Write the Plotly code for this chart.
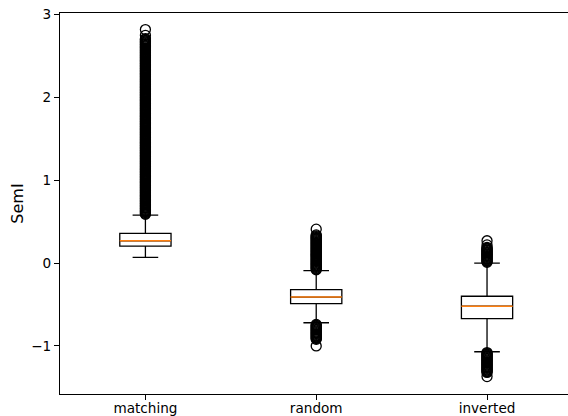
import plotly.graph_objects as go

categories = ["matching", "random", "inverted"]
positions = [1, 2, 3]

q1_vals = [0.205, -0.49, -0.67]
median_vals = [0.27, -0.41, -0.52]
q3_vals = [0.36, -0.32, -0.40]
lower_whisker = [0.07, -0.72, -1.07]
upper_whisker = [0.58, -0.09, 0.00]

matching_outliers = [
    0.59, 0.60, 0.61, 0.62, 0.63, 0.64, 0.65, 0.66, 0.67, 0.68,
    0.69, 0.70, 0.71, 0.72, 0.73, 0.74, 0.75, 0.76, 0.77, 0.78,
    0.79, 0.80, 0.81, 0.82, 0.83, 0.84, 0.85, 0.86, 0.87, 0.88,
    0.89, 0.90, 0.91, 0.92, 0.93, 0.94, 0.95, 0.96, 0.97, 0.98,
    0.99, 1.00, 1.01, 1.02, 1.03, 1.04, 1.05, 1.06, 1.07, 1.08,
    1.09, 1.10, 1.11, 1.12, 1.13, 1.14, 1.15, 1.16, 1.17, 1.18,
    1.19, 1.20, 1.21, 1.22, 1.23, 1.24, 1.25, 1.26, 1.27, 1.28,
    1.29, 1.30, 1.31, 1.32, 1.33, 1.34, 1.35, 1.36, 1.37, 1.38,
    1.39, 1.40, 1.41, 1.42, 1.43, 1.44, 1.45, 1.46, 1.47, 1.48,
    1.49, 1.50, 1.51, 1.52, 1.53, 1.54, 1.55, 1.56, 1.57, 1.58,
    1.59, 1.60, 1.61, 1.62, 1.63, 1.64, 1.65, 1.66, 1.67, 1.68,
    1.69, 1.70, 1.71, 1.72, 1.73, 1.74, 1.75, 1.76, 1.77, 1.78,
    1.79, 1.80, 1.81, 1.82, 1.83, 1.84, 1.85, 1.86, 1.87, 1.88,
    1.89, 1.90, 1.91, 1.92, 1.93, 1.94, 1.95, 1.96, 1.97, 1.98,
    1.99, 2.00, 2.01, 2.02, 2.03, 2.04, 2.05, 2.06, 2.07, 2.08,
    2.09, 2.10, 2.11, 2.12, 2.13, 2.14, 2.15, 2.16, 2.17, 2.18,
    2.19, 2.20, 2.21, 2.22, 2.23, 2.24, 2.25, 2.26, 2.27, 2.28,
    2.29, 2.30, 2.31, 2.32, 2.33, 2.34, 2.35, 2.36, 2.37, 2.38,
    2.39, 2.40, 2.41, 2.42, 2.43, 2.44, 2.45, 2.46, 2.47, 2.48,
    2.49, 2.50, 2.51, 2.52, 2.53, 2.54, 2.55, 2.56, 2.57, 2.58,
    2.59, 2.60, 2.61, 2.62, 2.63, 2.64, 2.65, 2.66, 2.67, 2.68,
    2.69, 2.70, 2.71, 2.75, 2.82,
]
random_outliers = [
    -0.08, -0.07, -0.06, -0.05, -0.04, -0.03, -0.02, -0.01, 0.00, 0.01,
    0.02, 0.03, 0.04, 0.05, 0.06, 0.07, 0.08, 0.09, 0.10, 0.11,
    0.12, 0.13, 0.14, 0.15, 0.16, 0.17, 0.18, 0.19, 0.20, 0.21,
    0.22, 0.23, 0.24, 0.25, 0.26, 0.27, 0.28, 0.29, 0.30, 0.31,
    0.32, 0.33, 0.34, 0.41,
    -0.74, -0.75, -0.76, -0.77, -0.78, -0.79, -0.80, -0.81, -0.82, -0.83,
    -0.84, -0.85, -0.86, -0.87, -0.88, -0.89, -0.90, -0.91, -0.92, -1.00,
]
inverted_outliers = [
    0.01, 0.02, 0.03, 0.04, 0.05, 0.06, 0.07, 0.08, 0.09, 0.10,
    0.11, 0.12, 0.13, 0.14, 0.15, 0.16, 0.17, 0.18, 0.19, 0.22, 0.27,
    -1.08, -1.09, -1.10, -1.11, -1.12, -1.13, -1.14, -1.15, -1.16, -1.17,
    -1.18, -1.19, -1.20, -1.21, -1.22, -1.23, -1.24, -1.25, -1.26, -1.27,
    -1.28, -1.29, -1.30, -1.31, -1.32, -1.37,
]
outliers = [matching_outliers, random_outliers, inverted_outliers]

box_width = 0.3
font_family = "DejaVu Sans, sans-serif"

fig = go.Figure()
for i, pos in enumerate(positions):
    fig.add_trace(go.Box(
        x=[pos], q1=[q1_vals[i]], median=[median_vals[i]], q3=[q3_vals[i]],
        lowerfence=[lower_whisker[i]], upperfence=[upper_whisker[i]],
        width=box_width, whiskerwidth=0.5, boxpoints=False,
        fillcolor="white", line=dict(color="black", width=1.3),
        showlegend=False, name=categories[i],
    ))
    fig.add_trace(go.Scatter(
        x=[pos - box_width / 2, pos + box_width / 2],
        y=[median_vals[i], median_vals[i]],
        mode="lines", line=dict(color="#ff7f0e", width=1.5),
        showlegend=False, hoverinfo="skip",
    ))
    fig.add_trace(go.Scatter(
        x=[pos] * len(outliers[i]), y=outliers[i], mode="markers",
        marker=dict(symbol="circle-open", size=10, color="black", line=dict(width=1.3)),
        showlegend=False,
    ))

fig.update_layout(
    width=568, height=416,
    margin=dict(l=60, r=0, t=13, b=22, autoexpand=False),
    paper_bgcolor="white", plot_bgcolor="white",
    font=dict(family=font_family, size=13.6, color="black"),
    xaxis=dict(
        range=[0.5, 3.474], tickvals=positions, ticktext=categories,
        ticks="outside", ticklen=5, tickwidth=1.1, tickcolor="black",
        showline=True, linecolor="black", linewidth=1.1, mirror=True,
        showgrid=False, zeroline=False, automargin=False,
        ticklabeloverflow="allow", ticklabelstandoff=-3,
    ),
    yaxis=dict(
        range=[-1.58, 3.02], tickvals=[-1, 0, 1, 2, 3],
        ticktext=["\u22121", "0", "1", "2", "3"],
        ticks="outside", ticklen=5, tickwidth=1.1, tickcolor="black",
        showline=True, linecolor="black", linewidth=1.1,
        showgrid=False, zeroline=False, automargin=False,
        ticklabeloverflow="allow",
        title=dict(text="SemI", standoff=3),
    ),
)

fig.write_html(
    "out.html",
    config={"displayModeBar": False},
    post_script="document.body.style.margin='0';document.body.style.overflow='hidden';",
)
